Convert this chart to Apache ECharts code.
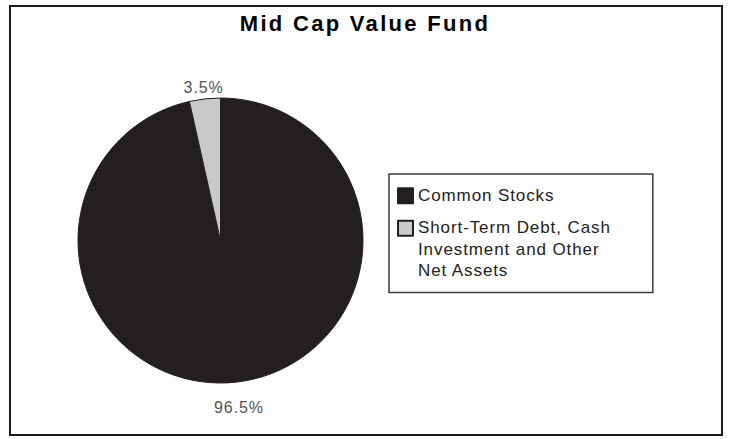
<!DOCTYPE html>
<html>
<head>
<meta charset="utf-8">
<script src="https://cdn.jsdelivr.net/npm/echarts@6/dist/echarts.min.js"></script>
<style>
html,body{margin:0;padding:0;background:#fff;}
#chart{width:730px;height:439px;}
</style>
</head>
<body>
<div id="chart"></div>
<script>
// ---- data ----
const titleText = 'Mid Cap Value Fund';
const categories = ['Common Stocks', 'Short-Term Debt, Cash Investment and Other Net Assets'];
const legendLabels = ['Common Stocks', 'Short-Term Debt, Cash\nInvestment and Other\nNet Assets'];
const values = [96.5, 3.5];

// ---- styles ----
const sliceColors = ['#231f20', '#c9c9c9'];
const labelLineLengths = [26, 11];
const legendIcons = ['path://M0,0h15v15h-15z', 'path://M0,0h15v15h-15z M0,57'];
const FONT = '"Liberation Sans", Arial, Helvetica, sans-serif';

const chart = echarts.init(document.getElementById('chart'), null, {renderer: 'svg'});

chart.setOption({
  animation: false,
  backgroundColor: '#ffffff',
  title: {
    text: titleText,
    left: 'center',
    top: 7,
    padding: 5,
    textStyle: {fontFamily: FONT, fontWeight: 'bold', fontSize: 22, color: '#000'}
  },
  graphic: [{
    type: 'rect',
    silent: true,
    z: -10,
    shape: {x: 10, y: 6, width: 712, height: 429},
    style: {fill: 'none', stroke: '#1a1a1a', lineWidth: 2}
  }],
  legend: {
    orient: 'vertical',
    left: 389,
    top: 174,
    padding: [11, 61, 11, 8],
    itemGap: 10.5,
    itemWidth: 15,
    itemHeight: 57,
    symbolKeepAspect: true,
    selectedMode: false,
    borderColor: '#3a3a3a',
    borderWidth: 1.5,
    borderRadius: 0,
    backgroundColor: '#fff',
    textStyle: {fontFamily: FONT, fontSize: 17, lineHeight: 21.5, color: '#222'},
    formatter: function (name) { return legendLabels[categories.indexOf(name)]; },
    data: categories.map(function (n, i) { return {name: n, icon: legendIcons[i]}; })
  },
  series: [{
    type: 'pie',
    center: [220.5, 240.5],
    radius: 142.5,
    startAngle: 90,
    clockwise: true,
    avoidLabelOverlap: false,
    emphasis: {disabled: true},
    itemStyle: {borderColor: '#231f20', borderWidth: 1},
    label: {
      show: true,
      position: 'outside',
      distanceToLabelLine: 0,
      fontFamily: FONT,
      fontSize: 16,
      color: '#555',
      formatter: function (p) { return p.value.toFixed(1) + '%'; }
    },
    labelLine: {show: false, length2: 0},
    labelLayout: {align: 'center'},
    data: categories.map(function (n, i) {
      return {
        name: n,
        value: values[i],
        itemStyle: {color: sliceColors[i]},
        labelLine: {show: false, length: labelLineLengths[i], length2: 0}
      };
    })
  }]
});

function applySpacing() {
  chart.getDom().querySelectorAll('text').forEach(function (t) {
    t.style.letterSpacing = (t.textContent === titleText) ? '2.3px' : '0.9px';
  });
}
chart.on('finished', applySpacing);
setTimeout(applySpacing, 50);
setTimeout(applySpacing, 300);
</script>
</body>
</html>
